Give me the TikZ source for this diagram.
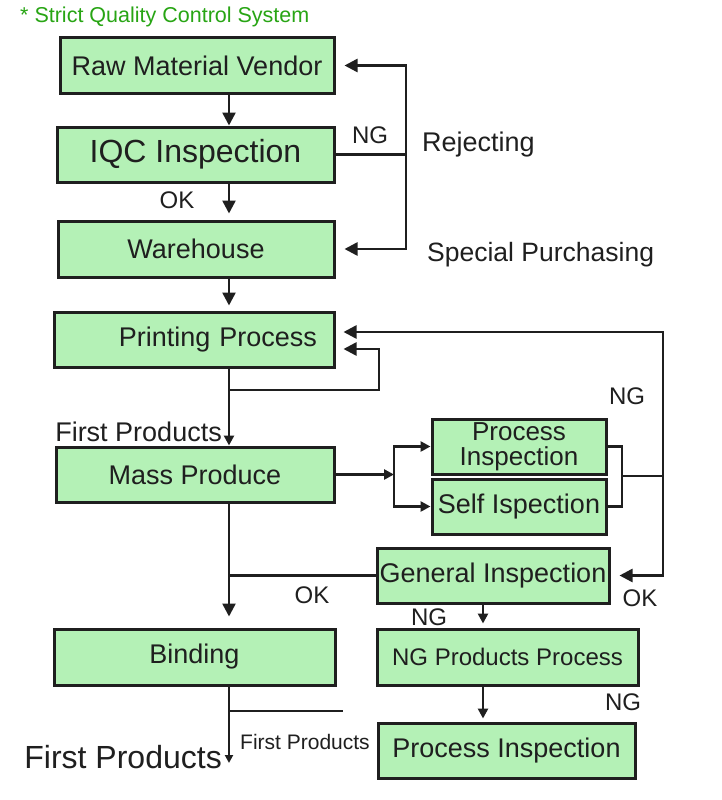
\documentclass[tikz,border=0pt]{standalone}
\usepackage{fontspec}
\setmainfont{Liberation Sans}
\usetikzlibrary{arrows.meta,positioning}
\tikzset{>={Triangle[length=13pt,width=13pt]}}
\definecolor{boxGreen}{RGB}{180,241,182}
\definecolor{titleGreen}{RGB}{40,165,20}
\colorlet{penColor}{black!88}
\tikzset{
  stage/.style={draw=penColor,line width=3pt,fill=boxGreen,inner sep=0pt,
    minimum height=55pt,text=penColor,font=\fontsize{27}{26}\selectfont},
  flow/.style={draw=penColor,line width=2.5pt},
  lbl/.style={inner sep=0pt,text=penColor,font=\fontsize{24}{24}\selectfont},
  smalltip/.style={>={Triangle[length=10pt,width=10pt]}}
}

\begin{document}
\begin{tikzpicture}[x=1pt,y=-1pt]
  \useasboundingbox[fill=white] (0,0) rectangle (721,800);
  \node[anchor=west,inner sep=0pt,text=titleGreen,font=\fontsize{21.5}{22}\selectfont] (title) at (20,17) {* Strict Quality Control System};
  % left column
  \node[stage,minimum width=274pt] (raw) at (197,65.5) {Raw Material Vendor};
  \node[stage,minimum width=277pt,font=\fontsize{32}{32}\selectfont] (iqc) at (195.5,154.5) {IQC Inspection};
  \node[stage,minimum width=276pt,minimum height=56pt] (ware) at (196,249) {Warehouse};
  \node[stage,minimum width=280pt,text width=246pt,align=right] (print) at (194,339.5) {Printing Process};
  \node[stage,minimum width=278pt] (mass) at (195,474.5) {Mass Produce};
  \node[stage,minimum width=281pt,minimum height=56pt] (bind) at (194.5,657) {Binding};
  % right column
  \node[stage,minimum width=174pt,align=center,font=\fontsize{26}{25.5}\selectfont] (pinsp) at (519,446.5) {Process\\Inspection};
  \node[stage,minimum width=174pt] (self) at (519,506.5) {Self Ispection};
  \node[stage,minimum width=232pt] (gen) at (493,575.5) {General Inspection};
  \node[stage,minimum width=261pt,minimum height=56pt,font=\fontsize{24}{24}\selectfont] (ngp) at (507.5,657) {NG Products Process};
  \node[stage,minimum width=257pt] (pinsp2) at (506.5,750.5) {Process Inspection};

  \coordinate (colx) at (229,0);
  \coordinate (rejx) at (406,0);
  \coordinate (splitx) at (394,0);
  \coordinate (brx) at (622,0);
  \coordinate (inspx) at (483,0);
  \coordinate (loopA) at (229,390);
  \coordinate (loopB) at (379,349);
  \coordinate (brmid) at (622,476);
  \coordinate (ngtop) at (663,332);
  \coordinate (outA) at (229,763);
  \coordinate (outB) at (343,711);

  \draw[flow,->] (raw.south -| colx) -- (iqc.north -| colx);
  \draw[flow,->,shorten >=6pt] (iqc.south -| colx) -- (ware.north -| colx);
  \draw[flow] (iqc.east) -- (iqc.east -| rejx);
  \draw[flow,<->,shorten <=9pt,shorten >=9pt] (raw.east) -- (raw.east -| rejx) -- (ware.east -| rejx) -- (ware.east);% rejecting / special purchasing
  \draw[flow,->,shorten >=5pt] (ware.south -| colx) -- (print.north -| colx);
  \draw[flow,smalltip,->] (print.south -| colx) -- (mass.north -| colx);
  \draw[flow,->,shorten >=8pt] (loopA) -| (loopB) -- (loopB -| print.east);
  \draw[flow,smalltip,->] (mass.east) -- (mass.east -| splitx);
  \draw[flow,smalltip,<->] (pinsp.west) -- (pinsp.west -| splitx) -- (self.west -| splitx) -- (self.west);
  \draw[flow] (pinsp.east) -- (pinsp.east -| brx) -- (self.east -| brx) -- (self.east);
  \draw[flow,->,shorten >=8pt] (brmid) -| (ngtop) -- (ngtop -| print.east);% NG back to printing
  \draw[flow,->,shorten >=9pt] (brmid -| ngtop) |- (gen.east);
  \draw[flow,->,shorten >=11pt] (mass.south -| colx) -- (bind.north -| colx);
  \draw[flow] (gen.west) -- (gen.west -| colx);
  \draw[flow,smalltip,->,shorten >=4pt] (gen.south -| inspx) -- (ngp.north -| inspx);
  \draw[flow,smalltip,->,shorten >=3pt] (ngp.south -| inspx) -- (pinsp2.north -| inspx);
  \draw[flow,->,>={Triangle[length=8pt,width=8pt]}] (bind.south -| colx) -- (outA);
  \draw[flow] (outB -| colx) -- (outB);

  % labels
  \node[lbl] (ng1) at (370,135) {NG};
  \node[lbl,anchor=west,font=\fontsize{27}{27}\selectfont] (rej) at (422,145) {Rejecting};
  \node[lbl] (ok1) at (177,200) {OK};
  \node[lbl,anchor=west,font=\fontsize{26.5}{27}\selectfont] (spec) at (427,255) {Special Purchasing};
  \node[lbl] (ng2) at (627,396) {NG};
  \node[lbl,anchor=east,font=\fontsize{27}{27}\selectfont] (first1) at (222,432) {First Products};
  \node[lbl] (ok2) at (312,595) {OK};
  \node[lbl] (ng3) at (429,617) {NG};
  \node[lbl] (ok3) at (640,598) {OK};
  \node[lbl] (ng4) at (623,702) {NG};
  \node[lbl,font=\fontsize{21}{21}\selectfont] (first2) at (305,742) {First Products};
  \node[lbl,anchor=east,font=\fontsize{32}{32}\selectfont] (first3) at (222,757) {First Products};
\end{tikzpicture}
\end{document}
